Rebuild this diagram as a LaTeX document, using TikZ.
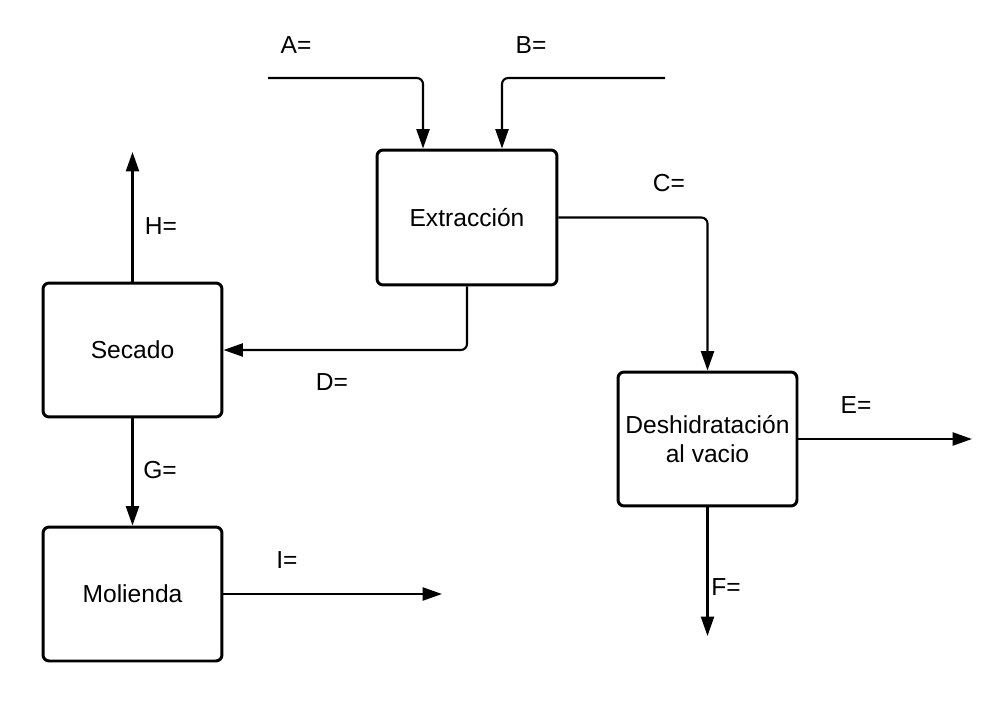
\documentclass[tikz,border=0pt]{standalone}
\usepackage{fontspec}
\setmainfont{Liberation Sans}
\usetikzlibrary{arrows.meta,positioning}

\begin{document}
\begin{tikzpicture}[x=0.02cm,y=-0.02cm]
\tikzset{
  unitbox/.style={rectangle,draw,line width=1.7pt,rounded corners=3.5pt,minimum width=3.58cm,minimum height=2.68cm,align=center,font=\fontsize{14}{17}\selectfont,inner sep=1pt},
  stream/.style={-{Triangle[length=11pt,width=7.4pt]},line width=1.2pt,rounded corners=3.5pt},
  flowlabel/.style={font=\fontsize{14}{17}\selectfont,inner sep=0pt}
}
\useasboundingbox (0,0) rectangle (1000,706);
\node[unitbox,minimum width=3.6cm,minimum height=2.7cm] (extr) at (467,217.5) {Extracción};
\node[unitbox] (secado) at (132.5,350) {Secado};
\node[unitbox] (moli) at (132.5,594) {Molienda};
\node[unitbox] (deshid) at (707.5,439) {Deshidratación\\al vacio};
\coordinate (a0) at (268,78);
\coordinate (b0) at (665,78);
\coordinate (h0) at (132.5,152);
\coordinate (i0) at (442,594);
\coordinate (e0) at (972,439);
\coordinate (f0) at (707.5,636);
\draw[stream] (a0) -| ([xshift=-0.88cm]extr.north);
\draw[stream] (b0) -| ([xshift=0.7cm]extr.north);
\draw[stream] (extr.east) -| (deshid.north);
\draw[stream] (extr.south) |- (secado.east);
\draw[stream] (secado.north) -- (h0);
\draw[stream] (secado.south) -- (moli.north);
\draw[stream] (moli.east) -- (i0);
\draw[stream] (deshid.east) -- (e0);
\draw[stream] (deshid.south) -- (f0);
\node[flowlabel] (lblA) at (296,45) {A=};
\node[flowlabel] (lblB) at (531,45) {B=};
\node[flowlabel] (lblC) at (669,183) {C=};
\node[flowlabel] (lblD) at (332,382) {D=};
\node[flowlabel] (lblE) at (856,405) {E=};
\node[flowlabel] (lblF) at (726,587) {F=};
\node[flowlabel] (lblG) at (160,470) {G=};
\node[flowlabel] (lblH) at (161,226) {H=};
\node[flowlabel] (lblI) at (287,560) {I=};
\end{tikzpicture}
\end{document}
